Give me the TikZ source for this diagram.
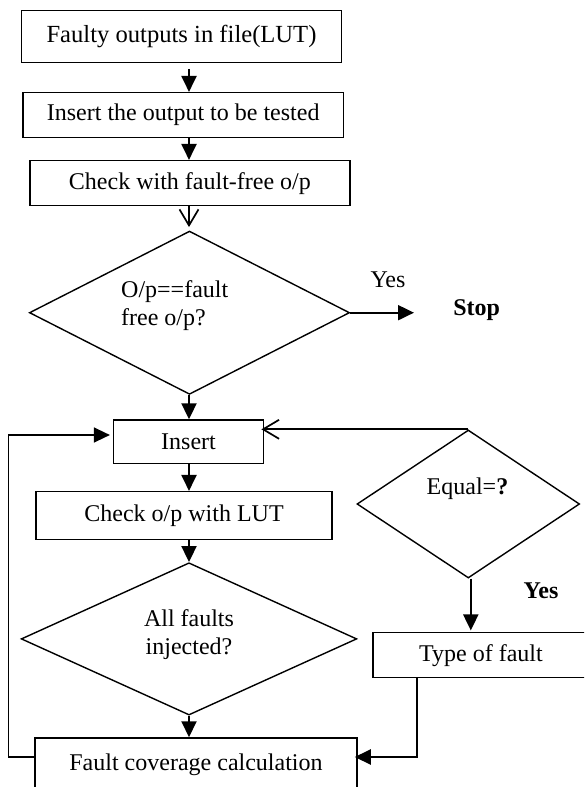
\documentclass[tikz,border=0pt]{standalone}
\usepackage{fontspec}
\setmainfont{Liberation Serif}
\usetikzlibrary{shapes.geometric,arrows.meta}
\begin{document}
\begin{tikzpicture}[x=1pt,y=-1pt,
  txt/.style={font=\fontsize{24}{28}\selectfont},
  box/.style={draw, line width=1.5pt, inner sep=0pt, txt},
  dia/.style={draw, diamond, line width=1.4pt, inner sep=0pt},
  lbl/.style={inner sep=0pt, txt},
  arr/.style={line width=2pt, -{Triangle[length=16pt,width=15pt]}},
  thinarr/.style={line width=1.4pt, -{Triangle[length=16pt,width=15pt]}},
  openarr/.style={line width=2pt, -{Straight Barb[length=16pt,width=19pt,line width=1.7pt]}}]
\useasboundingbox (0,0) rectangle (584,787);
\clip (0,0) rectangle (584,787);

% boxes
\node[box, minimum width=320pt, minimum height=52pt, font=\fontsize{24.6}{28}\selectfont] (b1) at (181.5,36.7) {Faulty outputs in file(LUT)};
\node[box, minimum width=320.4pt, minimum height=45pt] (b2) at (183.2,115.2) {Insert the output to be tested};
\node[box, minimum width=320.2pt, minimum height=45pt] (b3) at (189.9,183.2) {Check with fault-free o/p};
\node[box, minimum width=149.7pt, minimum height=43.3pt] (ins) at (188.5,441.7) {Insert};
\node[box, minimum width=296pt, minimum height=47.6pt] (chk) at (184,515.5) {Check o/p with LUT};
\node[box, minimum width=322pt, minimum height=54pt] (fc) at (196,765) {Fault coverage calculation};
\node[box, minimum width=216pt, minimum height=45pt] (ty) at (481,655.2) {Type of fault};

% diamonds
\node[dia, minimum width=320.2pt, minimum height=163.3pt] (d1) at (189.5,312.7) {};
\node[dia, minimum width=335.6pt, minimum height=152.3pt] (d2) at (189,638.9) {};
\node[dia, minimum width=222.6pt, minimum height=148pt] (eq) at (468.3,504) {};

% texts
\node[lbl, align=left, anchor=west] (d1t) at (121,306) {O/p==fault\\free o/p?};
\node[lbl, align=center] (d2t) at (189,634.5) {All faults\\injected?};
\node[lbl] (eqt) at (467.5,488.3) {Equal=\textbf{?}};
\node[lbl] (yes1) at (388,280) {Yes};
\node[lbl] (stop) at (476.6,310) {\textbf{Stop}};
\node[lbl] (yes2) at (541,590.7) {\textbf{Yes}};

% helper coordinates
\coordinate (ax) at (189,0);
\coordinate (stopin) at (414,312.7);
\coordinate (lp1) at (8.2,757);
\coordinate (lp2) at (8.2,435);
\coordinate (rp) at (417,757);

% connectors
\draw[arr] (b1.south -| ax) ++(0,5.5) -- (b2.north -| ax);
\draw[arr] (b2.south -| ax) -- (b3.north -| ax);
\draw[openarr] (b3.south -| ax) -- ([yshift=3.3pt]d1.north -| ax);
\draw[arr] (d1.east) -- (stopin);
\draw[arr] (d1.south -| ax) -- (ins.north -| ax);
\draw[arr] (ins.south -| ax) -- (chk.north -| ax);
\draw[arr] (chk.south -| ax) -- (d2.north -| ax);
\draw[arr] (d2.south -| ax) -- (fc.north -| ax);
\draw[thinarr, shorten >=3pt] (fc.west |- lp1) -- (lp1) -- (lp2) -- (ins.west |- lp2);
\draw[openarr, shorten >=-2.7pt] (eq.north) -- (ins.east |- eq.north);
\draw[arr] ([xshift=2.5pt]eq.south) -- ([xshift=2.5pt,yshift=1.5pt]ty.north -| eq.south);
\draw[arr, shorten >=-3pt] (ty.south -| rp) -- (rp) -- (fc.east |- rp);
\end{tikzpicture}
\end{document}
